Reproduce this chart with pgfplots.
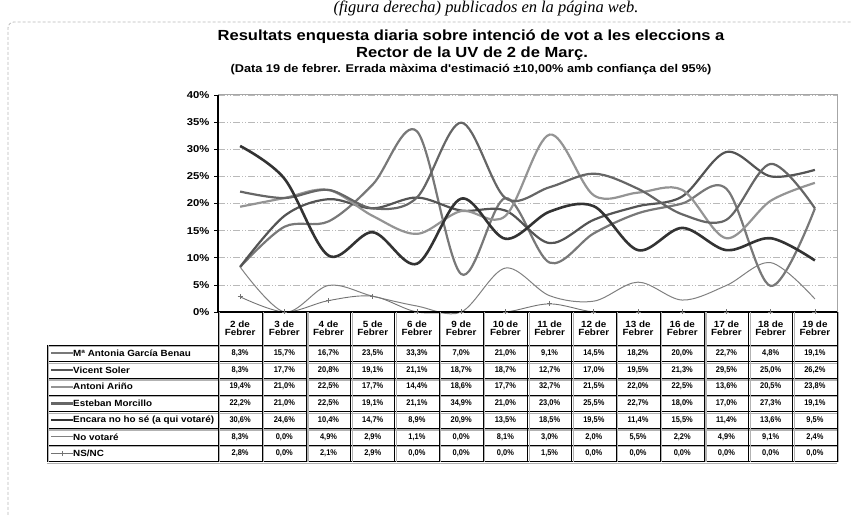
\documentclass[border=0pt]{standalone}
\usepackage{fontspec}
\setmainfont{Liberation Sans}
\newfontfamily\nar[FakeStretch=0.9]{Liberation Sans}
\newfontfamily\wide[FakeStretch=1.13]{Liberation Sans}
\newfontfamily\midw[FakeStretch=1.1]{Liberation Sans}
\newfontfamily\serifit{Liberation Serif}
\usepackage{pgfplots}
\usepackage{pgfplotstable}
\pgfplotsset{compat=1.18}

\pgfplotstableread{
x g s a m e n ns
0 8.3 8.3 19.4 22.2 30.6 8.3 2.8
1 15.7 17.7 21.0 21.0 24.6 0.0 0.0
2 16.7 20.8 22.5 22.5 10.4 4.9 2.1
3 23.5 19.1 17.7 19.1 14.7 2.9 2.9
4 33.3 21.1 14.4 21.1 8.9 1.1 0.0
5 7.0 18.7 18.6 34.9 20.9 0.0 0.0
6 21.0 18.7 17.7 21.0 13.5 8.1 0.0
7 9.1 12.7 32.7 23.0 18.5 3.0 1.5
8 14.5 17.0 21.5 25.5 19.5 2.0 0.0
9 18.2 19.5 22.0 22.7 11.4 5.5 0.0
10 20.0 21.3 22.5 18.0 15.5 2.2 0.0
11 22.7 29.5 13.6 17.0 11.4 4.9 0.0
12 4.8 25.0 20.5 27.3 13.6 9.1 0.0
13 19.1 26.2 23.8 19.1 9.5 2.4 0.0
}\data

\definecolor{cG}{gray}{0.47}
\definecolor{cS}{gray}{0.33}
\definecolor{cA}{gray}{0.58}
\definecolor{cM}{gray}{0.40}
\definecolor{cE}{gray}{0.20}
\definecolor{cN}{gray}{0.50}
\definecolor{cNS}{gray}{0.45}

\begin{document}
\begin{tikzpicture}[x=1bp,y=1bp]
\useasboundingbox (0,0) rectangle (852,519);
% text at the top
\node[anchor=base, font=\serifit\itshape\fontsize{16.5}{16.5}\selectfont] at (486,506) {(figura derecha) publicados en la página web.};
% dashed frame
\draw[gray!55, dash pattern=on 3bp off 2bp, line width=0.8bp, rounded corners=6bp] (8,4) -- (8,497) -- (860,497);
% titles
\node[font=\wide\bfseries\fontsize{14.7}{14.7}\selectfont] at (471,482) {Resultats enquesta diaria sobre intenció de vot a les eleccions a};
\node[font=\wide\bfseries\fontsize{14.7}{14.7}\selectfont] at (472,465) {Rector de la UV de 2 de Març.};
\node[font=\wide\bfseries\fontsize{11.3}{11.3}\selectfont] at (471,449) {(Data 19 de febrer. Errada màxima d'estimació ±10,00\% amb confiança del 95\%)};

\begin{axis}[at={(218bp,207bp)}, anchor=south west, scale only axis,
  width=619bp, height=217bp,
  xmin=-0.5, xmax=13.5, ymin=0, ymax=40,
  xtick=\empty, ytick={0,5,...,40},
  /pgf/number format/assume math mode=true,
  yticklabel={\pgfmathprintnumber{\tick}\%},
  yticklabel style={font=\wide\bfseries\fontsize{10}{10}\selectfont, xshift=-1bp},
  tick align=outside, ytick pos=left, major tick length=4bp,
  tick style={black, line width=0.6bp},
  axis line style={gray!70, line width=1bp},
  ymajorgrids, grid style={gray!55, line width=0.7bp, dash pattern=on 7bp off 2bp on 1bp off 2bp on 1bp off 2bp},
  clip=false, smooth, tension=0.55]
\addplot[cG, line width=2.2bp] table[x=x,y=g]{\data};
\addplot[cS, line width=2.2bp] table[x=x,y=s]{\data};
\addplot[cA, line width=2.2bp] table[x=x,y=a]{\data};
\addplot[cM, line width=2.2bp] table[x=x,y=m]{\data};
\addplot[cE, line width=2.6bp] table[x=x,y=e]{\data};
\addplot[cN, line width=1bp] table[x=x,y=n]{\data};
\addplot[cNS, line width=0.9bp, mark=+, mark size=2.5bp, mark options={line width=0.8bp}] table[x=x,y=ns]{\data};
\draw[black, line width=1.3bp] (rel axis cs:0,1) -- (rel axis cs:0,0) -- (rel axis cs:1,0);
\end{axis}

% data table
\pgfmathsetmacro{\cw}{619/14}
\def\rh{16.7}
% header day labels
\foreach \d [count=\i from 0] in {2,3,4,5,6,9,10,11,12,13,16,17,18,19} {
  \node[font=\midw\bfseries\fontsize{9}{9}\selectfont, align=center, inner sep=0pt] at ({218+\cw*(\i+0.5)},190.5) {\d\ de\\[-0.5bp]Febrer};
}
% grid lines of the table
\foreach \k in {0,...,7} {
  \draw[gray!60, line width=1.2bp] (47,{174-\rh*\k-1.6}) -- (837,{174-\rh*\k-1.6});
  \draw[black, line width=0.8bp] (47,{174-\rh*\k}) -- (837,{174-\rh*\k});
}
\foreach \i in {0,...,14} {
  \draw[gray!60, line width=1.2bp] ({218+\cw*\i+1.6},207) -- ({218+\cw*\i+1.6},{174-\rh*7});
  \draw[black, line width=0.8bp] ({218+\cw*\i},207) -- ({218+\cw*\i},{174-\rh*7});
}
\draw[black, line width=0.8bp] (47,174) -- (47,{174-\rh*7});
\draw[gray!60, line width=1.2bp] (48.6,174) -- (48.6,{174-\rh*7});
% legend entries
\foreach \lab/\col/\lw [count=\k from 0] in {%
  {Mª Antonia García Benau}/cG/2.2,
  {Vicent Soler}/cS/2.2,
  {Antoni Ariño}/cA/2.2,
  {Esteban Morcillo}/cM/2.2,
  {Encara no ho sé (a qui votaré)}/cE/2.6,
  {No votaré}/cN/1,
  {NS/NC}/cNS/0.9} {
  \draw[\col, line width=\lw bp] (51,{174-\rh*(\k+0.5)}) -- (73,{174-\rh*(\k+0.5)});
  \node[anchor=west, inner sep=0pt, font=\midw\bfseries\fontsize{9}{9}\selectfont] at (73,{174-\rh*(\k+0.5)}) {\lab};
}
\draw[cNS, line width=0.8bp] (62,{174-\rh*6.5-2.5}) -- (62,{174-\rh*6.5+2.5});
% values
\foreach \colname [count=\k from 0] in {g,s,a,m,e,n,ns} {
  \foreach \i in {0,...,13} {
    \pgfplotstablegetelem{\i}{\colname}\of\data
    \let\v\pgfplotsretval
    \node[inner sep=0pt, font=\nar\bfseries\fontsize{8.3}{8.3}\selectfont] at ({218+\cw*(\i+0.5)},{174-\rh*(\k+0.5)}) {\pgfmathprintnumber[fixed, fixed zerofill, precision=1, use comma, assume math mode=true]{\v}\%};
  }
}
\end{tikzpicture}
\end{document}
